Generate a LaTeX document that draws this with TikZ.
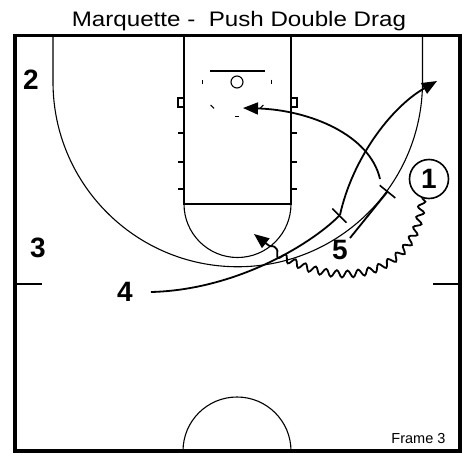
\documentclass[tikz,border=0pt]{standalone}
\usepackage{fontspec}
\setmainfont{Liberation Sans}
\newfontfamily\widefont{Liberation Sans}[FakeStretch=1.15]
\usetikzlibrary{arrows.meta, decorations.pathmorphing}

\begin{document}
\begin{tikzpicture}[x=1pt, y=-1pt,
    ct/.style={line width=1.1pt},
    mv/.style={line width=1.8pt},
    tip/.style={-{Triangle[length=15pt, width=12pt]}},
    scr/.style={-{Bar[width=20pt, line width=1.6pt]}},
    pl/.style={font=\fontsize{28}{30}\selectfont\bfseries, inner sep=2pt},
    drb/.style={decorate, decoration={snake, segment length=11pt,
                amplitude=3.5pt, post length=16pt}},
  ]
  \useasboundingbox (0,0) rectangle (467,453);
  \node[font=\widefont\fontsize{21}{24}\selectfont, anchor=base] (title) at (239,26)
    {Marquette -~ Push Double Drag};

  % court: three point line, lane, basket
  \draw[ct] (53,35) -- (53,82) arc[start angle=180, end angle=0, radius=184.75]
    -- (422.5,35);
  \draw[ct] (184,35) rectangle (291,204);
  \draw[ct] (184,204) arc[start angle=180, end angle=0, radius=53.5];
  \foreach \x in {178,291} \draw[ct] (\x,98) rectangle ++(6,9);
  \foreach \y in {133,162,189} {
    \draw[ct] (178,\y) -- (184,\y);
    \draw[ct] (291,\y) -- (297,\y);
  }
  \draw[ct] (210,71) -- (265,71);
  \draw[ct] (237,82) circle[radius=6];
  \foreach \a in {0,45,...,180}
    \draw[ct] (237,82) ++({\a-4}:35) arc[start angle=\a-4, end angle=\a+4, radius=35];
  \draw[ct] (15,284) -- (42,284);
  \draw[ct] (433,284) -- (460,284);
  \draw[ct] (183,451) arc[start angle=180, end angle=360, radius=54];
  \draw[line width=3.5pt] (15,35.5) rectangle (460,451);
  \node[font=\fontsize{14.5}{16}\selectfont, anchor=base east] (frame) at (449,443)
    {Frame 3};

  % players
  \node[pl] (p2) at (31,80) {2};
  \node[pl] (p3) at (38,248) {3};
  \node[pl] (p4) at (125,292) {4};
  \node[pl] (p5) at (340,250) {5};
  \node[pl, circle, draw, line width=1.6pt, minimum size=39pt, inner sep=0pt]
    (p1) at (429,179) {1};

  \coordinate (s4) at (340,215);
  \coordinate (w4) at (437,81);
  \coordinate (s5) at (388,191);
  \coordinate (r5) at (380,179);
  \coordinate (b5) at (243,108);
  \coordinate (d1) at (254,234);

  % 4 drags, then pops to the wing
  \draw[mv, scr] ([xshift=16pt]p4.east) .. controls (235,290) and (310,245) .. (s4);
  \draw[mv, tip] (s4) .. controls (352,160) and (390,108) .. (w4);
  % 5 drags, then rolls to the rim
  \draw[mv, scr] (p5.north east) -- (s5);
  \draw[mv, tip] (r5) .. controls (370,135) and (310,110) .. (b5);
  % 1 dribbles off both screens
  \draw[mv, tip, drb] (p1.250) .. controls (418,280) and (325,295) .. (d1);
\end{tikzpicture}
\end{document}
